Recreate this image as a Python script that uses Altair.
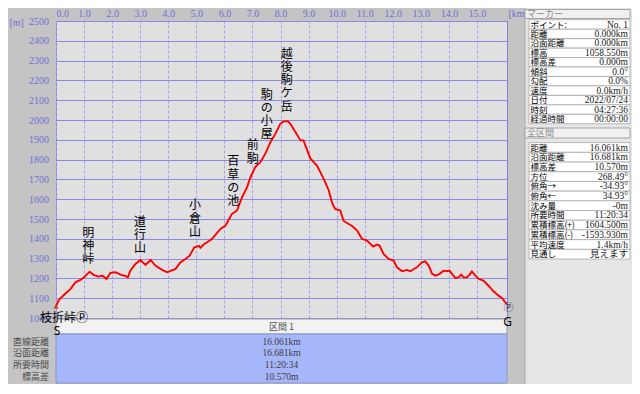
import altair as alt
import pandas as pd

# ---------------- data ----------------
dist_km = [0.00, 0.10, 0.16, 0.34, 0.52, 0.69, 0.87, 0.99, 1.20, 1.35, 1.52, 1.65, 1.80, 1.94,
           2.12, 2.30, 2.48, 2.56, 2.65, 2.83, 3.01, 3.19, 3.37, 3.54, 3.78, 3.96, 4.10, 4.26,
           4.43, 4.61, 4.76, 4.93, 5.09, 5.15, 5.26, 5.48, 5.56, 5.86, 6.04, 6.27, 6.45, 6.63,
           6.81, 6.93, 7.10, 7.28, 7.46, 7.64, 7.82, 7.99, 8.11, 8.26, 8.35, 8.53, 8.71, 8.82,
           9.06, 9.30, 9.54, 9.72, 9.84, 9.95, 10.13, 10.25, 10.55, 10.73, 10.90, 11.08, 11.30,
           11.44, 11.53, 11.67, 11.85, 12.03, 12.15, 12.33, 12.51, 12.62, 12.86, 13.04, 13.16,
           13.28, 13.40, 13.52, 13.67, 13.81, 13.93, 14.02, 14.11, 14.23, 14.34, 14.44, 14.52,
           14.64, 14.74, 14.82, 14.94, 15.06, 15.23, 15.41, 15.59, 15.77, 15.89, 16.01, 16.07]
elev_m = [1059, 1090, 1100, 1124, 1147, 1180, 1192, 1205, 1234, 1217, 1209, 1214, 1197, 1228,
          1231, 1219, 1212, 1205, 1239, 1273, 1293, 1268, 1293, 1265, 1243, 1231, 1239, 1248,
          1281, 1298, 1315, 1357, 1364, 1354, 1371, 1391, 1400, 1450, 1467, 1526, 1543, 1610,
          1661, 1711, 1762, 1787, 1830, 1888, 1931, 1981, 1993, 1994, 1981, 1939, 1897, 1897,
          1806, 1770, 1703, 1644, 1580, 1551, 1543, 1490, 1465, 1442, 1400, 1391, 1361,
          1371, 1366, 1324, 1298, 1290, 1256, 1236, 1243, 1236, 1256, 1281, 1286,
          1265, 1223, 1214, 1223, 1239, 1236, 1239, 1223, 1202, 1205, 1219, 1205,
          1205, 1219, 1236, 1214, 1197, 1189, 1163, 1135, 1113, 1101, 1079, 1069]

peak_names = ["明神峠", "道行山", "小倉山", "百草の池", "前駒", "駒の小屋", "越後駒ケ岳"]
peak_km = [1.15, 2.99, 4.95, 6.32, 7.01, 7.51, 8.22]
peak_label_elev = [1456, 1511, 1595, 1817, 1898, 2154, 2361]

start_name = "枝折峠Ⓟ"
end_name = "Ⓟ"
start_code, end_code = "S", "G"

x_ticks = list(range(0, 16))
y_ticks = list(range(1000, 2501, 100))
x_max = 16.07

section_title = "区間 1"
section_labels = ["直線距離", "沿面距離", "所要時間", "標高差"]
section_values = ["16.061km", "16.681km", "11:20:34", "10.570m"]

marker_title = "マーカー"
marker_labels = ["ポイント:", "距離", "沿面距離", "標高", "標高差", "傾斜", "勾配", "速度",
                 "日付", "時刻", "経過時間"]
marker_values = ["No. 1", "0.000km", "0.000km", "1058.550m", "0.000m", "0.0°", "0.0%",
                 "0.0km/h", "2022/07/24", "04:27:36", "00:00:00"]

total_title = "全区間"
total_labels = ["距離", "沿面距離", "標高差", "方位", "俯角→", "俯角←", "沈み量", "所要時間",
                "累積標高(+)", "累積標高(-)", "平均速度", "見通し"]
total_values = ["16.061km", "16.681km", "10.570m", "268.49°", "-34.93°", "34.93°", "-0m",
                "11:20:34", "1604.500m", "-1593.930m", "1.4km/h", "見えます"]

# ---------------- style ----------------
W, H = 451, 297
CJK = "Noto Sans CJK JP"
SERIF = "Liberation Serif, Noto Sans CJK JP"
AX = "#6f6fd6"

xscale = alt.Scale(domain=[0, x_max], nice=False, zero=False)
yscale = alt.Scale(domain=[1000, 2500], nice=False, zero=False)

x_axis = alt.Axis(orient="top", values=x_ticks, format=".1f", grid=True,
                  gridDash=[3, 2], gridColor="#a2a2ec", gridWidth=1, tickSize=0,
                  domain=False, labelFlush=True, labelOverlap=False,
                  labelPadding=8, labelBaseline="middle", labelColor=AX,
                  labelFont=SERIF, labelFontSize=10,
                  title="[km]", titleX=W + 1, titleY=-8, titleAlign="left",
                  titleBaseline="middle", titleAngle=0, titleColor=AX,
                  titleFont=SERIF, titleFontSize=10, titleFontWeight="normal")
y_axis = alt.Axis(orient="left", values=y_ticks, format="d", grid=True, gridColor="#8a8ae4",
                  gridWidth=1, tickSize=0, domain=False, labelOverlap=False,
                  labelPadding=7.5, labelColor=AX, labelFont=SERIF,
                  labelFontSize=10,
                  title="[m]", titleX=-47, titleY=1, titleAlign="left",
                  titleBaseline="middle", titleAngle=0, titleColor=AX,
                  titleFont=SERIF, titleFontSize=10, titleFontWeight="normal")


def xy():
    return dict(x=alt.X("km:Q", scale=xscale, axis=x_axis),
                y=alt.Y("elev:Q", scale=yscale, axis=y_axis))


# ---------------- main profile ----------------
prof = pd.DataFrame({"km": dist_km, "elev": elev_m})
line = alt.Chart(prof).mark_line(color="#ff0000", strokeWidth=1.9).encode(**xy())

peaks = pd.DataFrame({"name": ["\n".join(n) for n in peak_names],
                      "km": peak_km, "elev": peak_label_elev})
peak_text = alt.Chart(peaks).mark_text(
    baseline="top", align="center", lineBreak="\n", lineHeight=13.3,
    fontSize=12, font=CJK, color="#000000"
).encode(text="name:N", **xy())

start_df = pd.DataFrame({"km": [dist_km[0]], "elev": [elev_m[0]],
                         "name": [start_name], "code": [start_code]})
end_df = pd.DataFrame({"km": [dist_km[-1]], "elev": [elev_m[-1]],
                       "name": [end_name], "code": [end_code]})

start_icon = alt.Chart(start_df).mark_point(
    shape="triangle-up", filled=True, color="#c8401a", size=28, opacity=1
).encode(**xy())
start_name_t = alt.Chart(start_df).mark_text(
    align="left", baseline="middle", dx=-16, dy=12, fontSize=12, font=CJK, color="#000000"
).encode(text="name:N", **xy())
start_code_t = alt.Chart(start_df).mark_text(
    align="center", baseline="middle", dx=1, dy=25, fontSize=12, font="Noto Sans",
    color="#000000"
).encode(text="code:N", **xy())
end_name_t = alt.Chart(end_df).mark_text(
    align="center", baseline="middle", dx=1.5, dy=3.5, fontSize=10, font=CJK,
    color="#303060"
).encode(text="name:N", **xy())
end_code_t = alt.Chart(end_df).mark_text(
    align="center", baseline="middle", dx=0.5, dy=17.5, fontSize=12, font="Noto Sans",
    color="#000000"
).encode(text="code:N", **xy())

main = alt.layer(line, peak_text, start_icon, start_name_t, start_code_t,
                 end_name_t, end_code_t)

# ---------------- bottom section table ----------------
one = pd.DataFrame({"t": [section_title]})
strip = alt.Chart(one).mark_rect(fill="#f2f2f2", stroke="#9c9c9c", strokeWidth=1).encode(
    x=alt.value(0), x2=alt.value(W), y=alt.value(298), y2=alt.value(313))
strip_t = alt.Chart(one).mark_text(fontSize=9, font=CJK, color="#505050").encode(
    x=alt.value(W / 2), y=alt.value(305.5), text="t:N")
band = alt.Chart(one).mark_rect(fill="#a6b6fa", stroke="#8a94c8", strokeWidth=1).encode(
    x=alt.value(0), x2=alt.value(W), y=alt.value(313), y2=alt.value(362))

sec = pd.DataFrame({"row": list(range(len(section_labels))),
                    "label": section_labels, "value": section_values})
ysec = alt.Scale(domain=[0, 3], range=[320.5, 356.2], nice=False, zero=False)
sec_lab = alt.Chart(sec).mark_text(align="right", baseline="middle", fontSize=9, font=CJK,
                                   color="#4a4a4a").encode(
    x=alt.value(-7), y=alt.Y("row:Q", scale=ysec, axis=None), text="label:N")
sec_val = alt.Chart(sec).mark_text(align="center", baseline="middle", fontSize=9.5,
                                   font=SERIF, color="#404040").encode(
    x=alt.value(W / 2), y=alt.Y("row:Q", scale=ysec, axis=None), text="value:N")
bottom = alt.layer(strip, strip_t, band, sec_lab, sec_val)

# ---------------- right info panel ----------------
PX0, PX1 = 469, 576       # panel
TX0, TX1 = 473, 574       # table box
LX, VX = 474.5, 572       # label / value text


def info_table(title, labels, values, head_y0, head_y1, r0, r1):
    df = pd.DataFrame({"row": list(range(len(labels))), "label": labels, "value": values})
    n = len(labels) - 1
    ys = alt.Scale(domain=[0, n], range=[r0, r1], nice=False, zero=False)
    hd = pd.DataFrame({"t": [title]})
    head = alt.Chart(hd).mark_rect(fill="#f0f0f0", stroke="#a4a4a4", strokeWidth=1).encode(
        x=alt.value(PX0), x2=alt.value(PX1 - 2), y=alt.value(head_y0), y2=alt.value(head_y1))
    head_t = alt.Chart(hd).mark_text(align="left", baseline="middle", fontSize=9, font=CJK,
                                     color="#8a8a8a").encode(
        x=alt.value(PX0 + 2), y=alt.value((head_y0 + head_y1) / 2), text="t:N")
    cells = alt.Chart(df).transform_calculate(
        lo="datum.row - 0.5", hi="datum.row + 0.5"
    ).mark_rect(fill="#ffffff", stroke="#a8a8a8", strokeWidth=0.8).encode(
        x=alt.value(TX0), x2=alt.value(TX1),
        y=alt.Y("lo:Q", scale=ys, axis=None), y2="hi:Q")
    lab = alt.Chart(df).mark_text(align="left", baseline="middle", fontSize=8.5, font=CJK,
                                  color="#000000").encode(
        x=alt.value(LX), y=alt.Y("row:Q", scale=ys, axis=None), text="label:N")
    val = alt.Chart(df).mark_text(align="right", baseline="middle", fontSize=9.5,
                                  font=SERIF, color="#202020").encode(
        x=alt.value(VX), y=alt.Y("row:Q", scale=ys, axis=None), text="value:N")
    return alt.layer(head, head_t, cells, lab, val)


panel_bg = alt.Chart(pd.DataFrame({"t": [""]})).mark_rect(
    fill="#e6e6e6", stroke="#a8a8a8", strokeWidth=1).encode(
    x=alt.value(PX0), x2=alt.value(PX1 + 2), y=alt.value(-14), y2=alt.value(364))

marker_tbl = info_table(marker_title, marker_labels, marker_values, -11.5, -2.5, 3.5, 98.0)
total_tbl = info_table(total_title, total_labels, total_values, 107, 117, 126.5, 233.2)

chart = alt.layer(panel_bg, bottom, marker_tbl, total_tbl, main).resolve_scale(
    y="independent"
).properties(
    width=W, height=H,
    padding={"left": 48, "top": 13, "right": 125, "bottom": 66},
    autosize=alt.AutoSizeParams(type="none"),
    background="#c4c4c4",
).configure_view(fill="#e0e0e0", stroke="#8080e0", strokeWidth=1)

chart.save("out.html", embed_options={"renderer": "svg", "actions": False})
